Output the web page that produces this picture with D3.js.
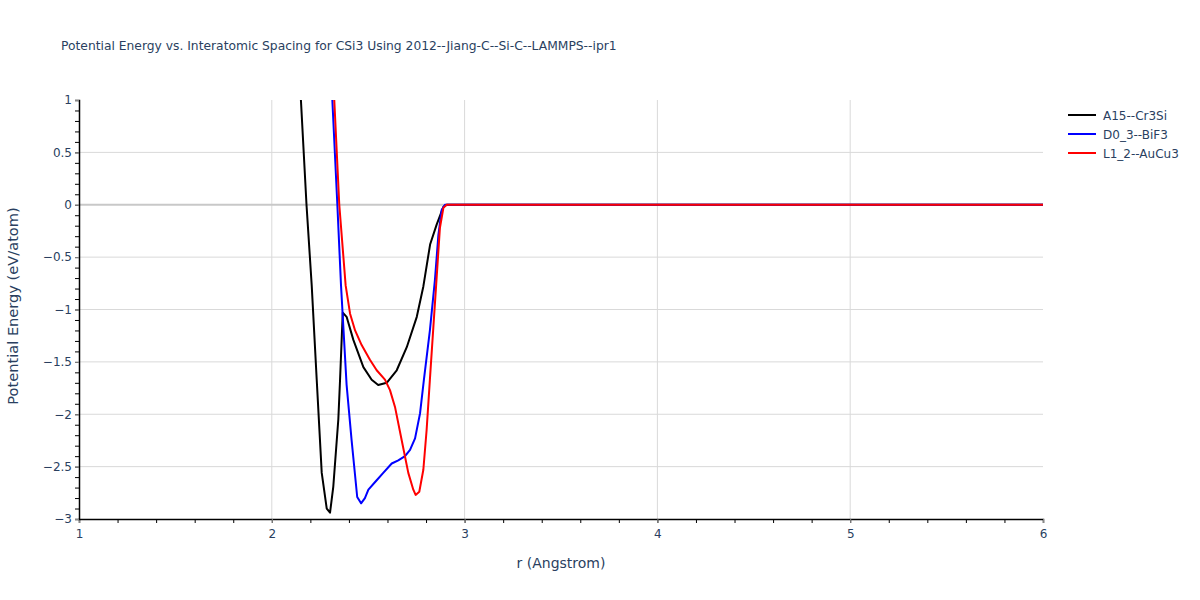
<!DOCTYPE html>
<html lang="en">
<head>
  <meta charset="UTF-8">
  <title>Potential Energy vs. Interatomic Spacing</title>
  <script src="https://d3js.org/d3.v7.min.js"></script>
  <style>
    body { margin: 0; background: #fff; }
    text { font-family: "DejaVu Sans", Verdana, Arial, sans-serif; }
  </style>
</head>
<body>
  <svg width="1200" height="600"></svg>

  <script>
    // Curves: r (Angstrom) and energy (eV/atom)
    const a15R = [2.14, 2.151, 2.180, 2.207, 2.233, 2.259, 2.285, 2.302, 2.319, 2.345, 2.354, 2.368,
                  2.388, 2.423, 2.475, 2.518, 2.552, 2.596, 2.648, 2.700, 2.752, 2.786, 2.821, 2.855,
                  2.890, 2.907, 6.0];
    const a15E = [1.6, 1.0, 0.0, -0.77, -1.67, -2.56, -2.90, -2.94, -2.69, -2.05, -1.67, -1.03,
                  -1.07, -1.29, -1.55, -1.67, -1.72, -1.70, -1.58, -1.36, -1.07, -0.78, -0.38, -0.19,
                  -0.02, 0.0, 0.0];

    const d03R = [2.305, 2.314, 2.340, 2.359, 2.388, 2.414, 2.443, 2.463, 2.483, 2.501, 2.544, 2.578,
                  2.622, 2.656, 2.691, 2.717, 2.743, 2.769, 2.789, 2.820, 2.846, 2.864, 2.881, 2.898, 6.0];
    const d03E = [1.6, 1.0, 0.0, -0.77, -1.72, -2.25, -2.79, -2.85, -2.80, -2.72, -2.63, -2.56,
                  -2.47, -2.44, -2.40, -2.34, -2.23, -1.99, -1.67, -1.20, -0.72, -0.29, -0.05, 0.0, 0.0];

    const l12R = [2.315, 2.324, 2.350, 2.383, 2.406, 2.432, 2.466, 2.509, 2.544, 2.587, 2.613, 2.639,
                  2.674, 2.708, 2.734, 2.746, 2.765, 2.786, 2.803, 2.820, 2.853, 2.872, 2.890, 2.907, 6.0];
    const l12E = [1.5, 1.0, 0.0, -0.77, -1.04, -1.20, -1.34, -1.48, -1.58, -1.67, -1.77, -1.93,
                  -2.25, -2.56, -2.72, -2.77, -2.74, -2.53, -2.15, -1.67, -0.75, -0.22, -0.03, 0.0, 0.0];

    const seriesNames = ["A15--Cr3Si", "D0_3--BiF3", "L1_2--AuCu3"];
    const seriesColors = ["black", "blue", "red"];
    const xTicks = [1, 2, 3, 4, 5, 6];
    const yTicks = [1, 0.5, 0, -0.5, -1, -1.5, -2, -2.5, -3];

    const series = [
      { name: seriesNames[0], color: seriesColors[0], pts: a15R.map((r, i) => [r, a15E[i]]) },
      { name: seriesNames[1], color: seriesColors[1], pts: d03R.map((r, i) => [r, d03E[i]]) },
      { name: seriesNames[2], color: seriesColors[2], pts: l12R.map((r, i) => [r, l12E[i]]) }
    ];

    const svg = d3.select("svg");
    const margin = { left: 79, right: 157, top: 100, bottom: 81 };
    const width = 1200 - margin.left - margin.right;
    const height = 600 - margin.top - margin.bottom;
    const textColor = "#2a3f5f";
    const font = "'DejaVu Sans', Verdana, Arial, sans-serif";

    const x = d3.scaleLinear().domain([1, 6]).range([0, width]);
    const y = d3.scaleLinear().domain([-3, 1]).range([height, 0]);

    const g = svg.append("g").attr("transform", `translate(${margin.left},${margin.top})`);

    // grid
    g.selectAll(".vgrid")
        .data(xTicks.slice(1, -1))
        .enter().append("line")
        .attr("x1", d => x(d)).attr("x2", d => x(d))
        .attr("y1", 0).attr("y2", height)
        .attr("stroke", "#d9d9d9").attr("stroke-width", 1);

    g.selectAll(".hgrid")
        .data(yTicks.slice(1, -1))
        .enter().append("line")
        .attr("x1", 0).attr("x2", width)
        .attr("y1", d => y(d)).attr("y2", d => y(d))
        .attr("stroke", d => d === 0 ? "#c8c8c8" : "#d9d9d9")
        .attr("stroke-width", d => d === 0 ? 2 : 1);

    // curves
    svg.append("defs").append("clipPath").attr("id", "clip")
      .append("rect").attr("width", width).attr("height", height);

    const line = d3.line().x(d => x(d[0])).y(d => y(d[1]));

    g.append("g").attr("clip-path", "url(#clip)")
      .selectAll("path")
      .data(series)
      .enter().append("path")
        .attr("d", d => line(d.pts))
        .attr("fill", "none")
        .attr("stroke", d => d.color)
        .attr("stroke-width", 2)
        .attr("stroke-linejoin", "round");

    const fmt = d => d < 0 ? "\u2212" + Math.abs(d) : String(d);

    // x axis, minor ticks every 0.2
    const xMinor = d3.range(1, 6.001, 0.2).map(v => +v.toFixed(1));
    g.append("g")
        .attr("transform", `translate(0,${height})`)
        .call(d3.axisBottom(x).tickValues(xMinor).tickSize(4).tickFormat(""))
        .call(a => a.select(".domain").attr("stroke", "#000").attr("stroke-width", 1.5))
        .call(a => a.selectAll(".tick line").attr("stroke", "#000"));

    g.append("g")
        .attr("transform", `translate(0,${height})`)
        .call(d3.axisBottom(x).tickValues(xTicks).tickSize(4).tickPadding(6).tickFormat(fmt))
        .call(a => a.select(".domain").remove())
        .call(a => a.selectAll(".tick line").attr("stroke", "#888"))
        .call(a => a.selectAll("text").attr("fill", textColor).attr("font-size", 12)
            .style("font-family", font));

    // y axis, minor ticks every 0.1
    const yMinor = d3.range(-3, 1.001, 0.1).map(v => +v.toFixed(1));
    g.append("g")
        .call(d3.axisLeft(y).tickValues(yMinor).tickSize(4).tickFormat(""))
        .call(a => a.select(".domain").remove())
        .call(a => a.selectAll(".tick line").attr("stroke", "#000"));

    g.append("g")
        .call(d3.axisLeft(y).tickValues(yTicks).tickSize(4).tickPadding(3).tickFormat(fmt))
        .call(a => a.select(".domain").attr("stroke", "#000").attr("stroke-width", 1.5))
        .call(a => a.selectAll(".tick line").attr("stroke", "#888"))
        .call(a => a.selectAll("text").attr("fill", textColor).attr("font-size", 12)
            .style("font-family", font));

    // titles
    svg.append("text")
        .attr("x", 61).attr("y", 50)
        .attr("fill", textColor).attr("font-size", 12.3)
        .text("Potential Energy vs. Interatomic Spacing for CSi3 Using 2012--Jiang-C--Si-C--LAMMPS--ipr1");

    svg.append("text")
        .attr("x", margin.left + width / 2).attr("y", 568)
        .attr("text-anchor", "middle")
        .attr("fill", textColor).attr("font-size", 14)
        .text("r (Angstrom)");

    svg.append("text")
        .attr("transform", `translate(18,306) rotate(-90)`)
        .attr("text-anchor", "middle")
        .attr("fill", textColor).attr("font-size", 14.6)
        .text("Potential Energy (eV/atom)");

    // legend
    const legend = svg.append("g").attr("transform", "translate(1068,115)");
    const item = legend.selectAll("g")
        .data(series)
        .enter().append("g")
        .attr("transform", (d, i) => `translate(0,${i * 19})`);

    item.append("line")
        .attr("x1", 0).attr("x2", 28)
        .attr("stroke", d => d.color).attr("stroke-width", 2);

    item.append("text")
        .attr("x", 35).attr("y", 4.5)
        .attr("fill", textColor).attr("font-size", 12)
        .text(d => d.name);
  </script>
</body>
</html>
